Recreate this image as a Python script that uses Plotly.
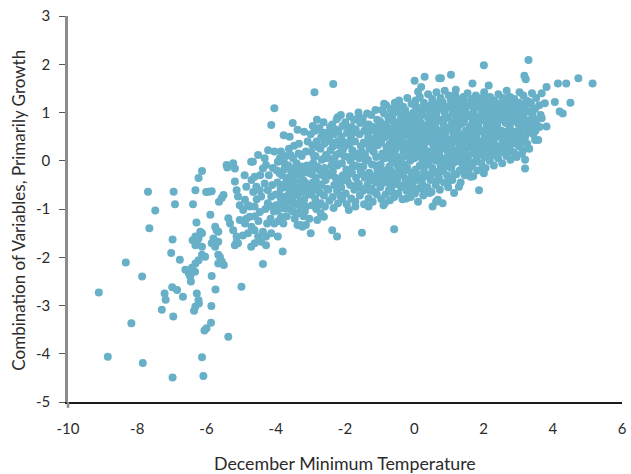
import plotly.graph_objects as go

# ---- data (December minimum temperature, combined growth index) ----
cold_tail = [
    (-9.11, -2.73), (-8.85, -4.06), (-8.33, -2.11), (-8.17, -3.37), (-7.86, -2.40), (-7.84, -4.19),
    (-7.69, -0.64), (-7.65, -1.40), (-7.48, -1.03), (-7.29, -3.09), (-7.21, -2.75), (-7.18, -2.88),
    (-6.99, -2.62), (-7.02, -1.91), (-6.98, -1.63), (-6.98, -4.49), (-6.96, -3.23), (-6.95, -0.64),
    (-6.91, -0.90), (-6.85, -2.68), (-6.77, -2.05), (-6.68, -2.82), (-6.61, -2.26), (-6.51, -2.33),
    (-6.47, -2.40), (-6.45, -2.50), (-6.42, -2.22), (-6.40, -1.65), (-6.39, -0.90), (-6.32, -0.61),
    (-6.32, -1.75), (-6.32, -1.57), (-6.32, -2.13), (-6.33, -2.30), (-6.32, -3.02), (-6.36, -3.11),
    (-6.29, -1.28), (-6.28, -2.75), (-6.28, -1.70), (-6.23, -2.89), (-6.23, -2.06), (-6.23, -1.61),
    (-6.23, -0.36), (-6.22, -2.96), (-6.18, -1.47), (-6.13, -0.21), (-6.13, -1.50), (-6.13, -1.95),
    (-6.13, -1.78), (-6.13, -4.07), (-6.09, -4.46), (-6.06, -3.52), (-6.04, -1.99), (-6.01, -0.65),
    (-6.00, -3.47), (-5.94, -0.64), (-5.89, -1.12), (-5.86, -3.01), (-5.87, -3.36), (-5.85, -0.63),
    (-5.85, -1.71), (-5.85, -2.39), (-5.80, -1.61), (-5.75, -1.78), (-5.75, -1.37), (-5.74, -2.67),
    (-5.71, -1.44), (-5.66, -1.47), (-5.66, -1.68), (-5.66, -1.95), (-5.66, -2.13), (-5.64, -0.85),
    (-5.61, -2.00), (-5.56, -0.77), (-5.56, -2.09), (-5.51, -0.71), (-5.50, -2.16), (-5.42, -0.09),
    (-5.40, -0.14), (-5.37, -1.19), (-5.37, -3.65), (-5.32, -1.30), (-5.23, -0.05), (-5.23, -1.44),
    (-5.18, -0.16), (-5.18, -0.43), (-5.18, -1.75), (-5.13, -0.61), (-5.13, -1.57), (-5.13, -1.68),
    (-5.09, -0.74), (-5.09, -1.71), (-5.04, -0.92), (-5.04, -1.23), (-4.99, -2.61),
]

cool_band = [
    (-4.94, -1.02), (-4.89, -0.81), (-4.89, -1.30), (-4.85, -0.54), (-4.80, -0.92), (-4.75, -0.95),
    (-4.75, -1.16), (-4.71, -0.02), (-4.71, -1.78), (-4.70, -1.37), (-4.66, -0.02), (-4.61, -0.33),
    (-4.61, -0.95), (-4.61, -1.44), (-4.61, -1.71), (-4.56, -0.54), (-4.51, 0.12), (-4.51, -1.57),
    (-4.46, -0.61), (-4.46, -1.06), (-4.42, -0.74), (-4.42, -1.68), (-4.37, -0.16), (-4.37, -1.47),
    (-4.37, -2.14), (-4.32, 0.05), (-4.32, -0.47), (-4.28, -0.09), (-4.28, -1.57), (-4.28, -1.75),
    (-4.23, -0.61), (-4.23, -0.88), (-4.13, 0.74), (-4.13, -0.74), (-4.13, -0.95), (-4.13, -1.50),
    (-4.04, 1.09), (-4.04, 0.19), (-4.04, -1.30), (-3.99, -0.92), (-3.94, -0.02), (-3.94, -1.02),
    (-3.94, -1.57), (-3.89, -0.26), (-3.85, 0.19), (-3.85, -0.81), (-3.85, -1.16), (-3.80, -0.50),
    (-3.80, -1.88), (-3.77, 0.53), (-3.75, -0.05), (-3.75, -0.99), (-3.71, -0.74), (-3.66, -0.36),
    (-3.56, -0.16), (-3.56, -0.61), (-3.51, 0.78), (-3.47, 0.31), (-3.47, -0.43), (-3.47, -0.88),
    (-3.37, 0.64), (-3.37, -0.19), (-3.37, -0.71), (-3.37, -1.33), (-3.32, -1.09), (-3.28, -0.54),
    (-3.28, -0.99), (-3.23, -1.37), (-3.18, 0.60), (-3.18, -0.23), (-3.18, -0.81), (-3.13, 0.19),
    (-3.13, -1.33), (-3.95, -0.45), (-3.90, -0.70), (-3.88, 0.05), (-3.82, -0.30), (-3.78, -1.30),
    (-3.72, -0.55), (-3.70, 0.10), (-3.68, -1.15), (-3.65, -0.85), (-3.62, 0.25), (-3.60, -0.40),
    (-3.58, -1.00), (-3.55, -0.25), (-3.52, -0.75), (-3.50, 0.05), (-3.45, -1.20), (-3.42, -0.60),
    (-3.40, -0.05), (-3.35, -0.45), (-3.33, 0.35), (-3.30, -0.85), (-3.27, -0.30), (-3.25, 0.10),
    (-3.22, -0.65), (-3.20, -1.15), (-3.15, -0.45), (-3.12, -0.95), (-3.10, -0.10), (-3.08, 0.40),
    (-3.05, -0.70), (-3.03, -1.20), (-4.20, -0.30), (-4.15, -1.20), (-4.10, -0.50), (-4.08, -0.15),
    (-4.00, -0.70), (-4.05, -1.05), (-4.25, -1.30), (-4.30, -1.00), (-4.45, -0.30), (-4.50, -1.25),
    (-4.55, -0.80), (-4.60, -1.15), (-4.65, -0.65), (-4.70, -0.40), (-4.80, -1.50), (-4.85, -1.20),
    (-4.90, -0.30), (-4.95, -1.55), (-4.22, 0.22), (-3.60, 0.50),
]

cool_fill = [
    (-3.97, -0.20), (-3.92, -1.25), (-3.86, -0.58), (-3.83, -0.95), (-3.76, -0.18), (-3.74, -0.78),
    (-3.69, -0.42), (-3.64, -0.10), (-3.61, -0.68), (-3.57, 0.12), (-3.53, -0.50), (-3.49, -1.05),
    (-3.44, -0.30), (-3.39, -0.90), (-3.34, 0.15), (-3.31, -0.62), (-3.26, -0.12), (-3.21, -0.40),
    (-3.16, -1.05), (-3.11, -0.60), (-3.06, -0.25), (-3.02, -0.50),
]

mid_band = [
    (-2.88, 1.42), (-2.34, 1.59), (-2.21, 0.90), (-2.99, -1.50), (-2.37, -1.44), (-2.23, -1.57),
    (-1.51, -1.49), (-2.70, -1.09), (-2.61, -1.16), (-2.80, -1.23), (-1.89, -1.02), (-1.70, -0.95),
    (-1.32, -0.95), (-3.28, -1.33),
    (-2.95, -0.92), (-2.98, -0.70), (-2.93, -0.45), (-2.96, -0.28), (-2.92, -0.05), (-2.97, 0.18),
    (-2.94, 0.32), (-2.99, 0.55), (-2.93, 0.72),
    (-2.83, -1.00), (-2.86, -0.78), (-2.81, -0.60), (-2.84, -0.35), (-2.80, -0.12), (-2.85, 0.10),
    (-2.82, 0.40), (-2.87, 0.62), (-2.81, 0.85),
    (-2.70, -0.88), (-2.73, -0.66), (-2.68, -0.50), (-2.72, -0.20), (-2.67, 0.02), (-2.71, 0.25),
    (-2.69, 0.48), (-2.74, 0.68),
    (-2.58, -0.95), (-2.61, -0.72), (-2.56, -0.40), (-2.59, -0.15), (-2.55, 0.12), (-2.60, 0.35),
    (-2.57, 0.58), (-2.62, 0.80),
    (-2.45, -0.83), (-2.48, -0.60), (-2.44, -0.30), (-2.47, 0.05), (-2.42, 0.22), (-2.46, 0.45),
    (-2.43, 0.70),
    (-2.33, -0.98), (-2.36, -0.75), (-2.31, -0.50), (-2.35, -0.22), (-2.30, 0.00), (-2.34, 0.30),
    (-2.32, 0.55), (-2.37, 0.75),
    (-2.20, -0.88), (-2.23, -0.62), (-2.18, -0.38), (-2.22, -0.10), (-2.17, 0.15), (-2.21, 0.40),
    (-2.19, 0.62), (-2.24, 0.86),
    (-2.08, -0.80), (-2.11, -0.55), (-2.06, -0.30), (-2.09, -0.05), (-2.05, 0.25), (-2.10, 0.50),
    (-2.07, 0.72), (-2.12, 0.95),
    (-1.95, -0.90), (-1.98, -0.68), (-1.93, -0.42), (-1.96, -0.18), (-1.92, 0.08), (-1.97, 0.32),
    (-1.94, 0.58), (-1.99, 0.80),
    (-1.82, -0.78), (-1.85, -0.50), (-1.80, -0.25), (-1.84, 0.00), (-1.79, 0.22), (-1.83, 0.48),
    (-1.81, 0.70), (-1.86, 0.92),
    (-1.70, -0.85), (-1.73, -0.60), (-1.68, -0.35), (-1.72, -0.10), (-1.67, 0.15), (-1.71, 0.40),
    (-1.69, 0.65), (-1.74, 0.85),
    (-1.57, -0.72), (-1.60, -0.48), (-1.55, -0.22), (-1.59, 0.05), (-1.54, 0.30), (-1.58, 0.55),
    (-1.56, 0.78), (-1.61, 1.00),
    (-1.45, -0.90), (-1.48, -0.62), (-1.43, -0.35), (-1.47, -0.12), (-1.42, 0.12), (-1.46, 0.38),
    (-1.44, 0.62), (-1.49, 0.88),
    (-1.32, -0.78), (-1.35, -0.50), (-1.30, -0.25), (-1.34, 0.02), (-1.29, 0.25), (-1.33, 0.50),
    (-1.31, 0.75), (-1.36, 0.98),
    (-1.20, -0.85), (-1.23, -0.58), (-1.18, -0.32), (-1.22, -0.08), (-1.17, 0.18), (-1.21, 0.45),
    (-1.19, 0.70), (-1.24, 0.95),
    (-1.08, -0.70), (-1.11, -0.45), (-1.06, -0.20), (-1.10, 0.08), (-1.05, 0.32), (-1.09, 0.58),
    (-1.07, 0.85), (-1.12, 1.05),
]

mid_fill = [
    (-2.90, -0.60), (-2.77, 0.28), (-2.64, -0.30), (-2.52, 0.48), (-2.39, -0.10), (-2.27, 0.65),
    (-2.14, -0.72), (-2.02, 0.10), (-1.89, -0.28), (-1.76, 0.58), (-1.64, -0.48), (-1.51, 0.18),
    (-1.39, 0.75), (-1.26, -0.40), (-1.14, 0.32), (-1.02, 0.72), (-2.89, 0.08), (-2.76, -0.48),
    (-2.52, -0.58), (-2.27, -0.35), (-2.01, 0.38), (-1.77, -0.12), (-1.52, -0.58), (-1.27, 0.62),
    (-1.02, -0.30), (-2.40, 0.58), (-1.88, 0.68), (-1.40, 0.00), (-1.15, -0.65),
    (-2.92, -0.18), (-2.78, -0.92), (-2.66, 0.58), (-2.50, -0.25), (-2.38, 0.38), (-2.26, 0.12),
    (-2.13, 0.30), (-2.00, -0.40), (-1.87, 0.35), (-1.74, 0.10), (-1.62, 0.88), (-1.49, -0.28),
    (-1.36, 0.35), (-1.24, 0.25), (-1.11, -0.10), (-2.60, 0.05), (-2.15, -0.50), (-1.60, -0.12),
    (-1.28, -0.62), (-1.05, 0.48),
]

core_band = [
    (0.01, 1.66), (0.30, 1.74), (0.72, 1.71), (0.11, 1.43), (0.20, 1.53), (-0.58, -1.42),
    (-0.85, -0.88), (-0.89, -0.92), (-0.23, -0.78), (0.11, -0.85), (0.53, -0.95), (0.63, -0.85),
    (0.44, -0.67), (0.77, 1.71), (0.68, -0.81), (0.82, -0.88),
    (-0.95, -0.80), (-0.98, -0.55), (-0.93, -0.30), (-0.97, -0.08), (-0.92, 0.15), (-0.96, 0.38),
    (-0.94, 0.60), (-0.99, 0.82), (-0.93, 1.05),
    (-0.83, -0.70), (-0.86, -0.45), (-0.81, -0.20), (-0.85, 0.05), (-0.80, 0.28), (-0.84, 0.50),
    (-0.82, 0.75), (-0.87, 0.98), (-0.81, 1.15),
    (-0.70, -0.82), (-0.73, -0.60), (-0.68, -0.35), (-0.72, -0.12), (-0.67, 0.12), (-0.71, 0.35),
    (-0.69, 0.58), (-0.74, 0.85), (-0.68, 1.08),
    (-0.58, -0.75), (-0.61, -0.50), (-0.56, -0.25), (-0.60, 0.00), (-0.55, 0.22), (-0.59, 0.48),
    (-0.57, 0.70), (-0.62, 0.95), (-0.56, 1.20),
    (-0.46, -0.68), (-0.49, -0.42), (-0.44, -0.18), (-0.48, 0.08), (-0.43, 0.30), (-0.47, 0.55),
    (-0.45, 0.80), (-0.50, 1.02), (-0.44, 1.25),
    (-0.34, -0.80), (-0.37, -0.55), (-0.32, -0.30), (-0.36, -0.05), (-0.31, 0.18), (-0.35, 0.42),
    (-0.33, 0.65), (-0.38, 0.90), (-0.32, 1.12),
    (-0.22, -0.62), (-0.25, -0.40), (-0.20, -0.15), (-0.24, 0.10), (-0.19, 0.35), (-0.23, 0.58),
    (-0.21, 0.82), (-0.26, 1.05), (-0.20, 1.30),
    (-0.10, -0.75), (-0.13, -0.50), (-0.08, -0.25), (-0.12, 0.00), (-0.07, 0.22), (-0.11, 0.45),
    (-0.09, 0.70), (-0.14, 0.92), (-0.08, 1.18),
    (0.02, -0.68), (-0.01, -0.42), (0.04, -0.18), (0.00, 0.05), (0.05, 0.30), (0.01, 0.52),
    (0.03, 0.78), (-0.02, 1.00), (0.04, 1.25),
    (0.14, -0.58), (0.11, -0.35), (0.16, -0.10), (0.12, 0.15), (0.17, 0.40), (0.13, 0.62),
    (0.15, 0.88), (0.10, 1.10), (0.16, 1.32),
    (0.26, -0.72), (0.23, -0.48), (0.28, -0.22), (0.24, 0.02), (0.29, 0.25), (0.25, 0.48),
    (0.27, 0.72), (0.22, 0.95), (0.28, 1.20),
    (0.38, -0.55), (0.35, -0.30), (0.40, -0.05), (0.36, 0.20), (0.41, 0.42), (0.37, 0.65),
    (0.39, 0.90), (0.34, 1.12), (0.40, 1.38),
    (0.50, -0.65), (0.47, -0.40), (0.52, -0.15), (0.48, 0.10), (0.53, 0.35), (0.49, 0.58),
    (0.51, 0.80), (0.46, 1.05), (0.52, 1.28),
    (0.62, -0.50), (0.59, -0.25), (0.64, 0.00), (0.60, 0.25), (0.65, 0.48), (0.61, 0.70),
    (0.63, 0.95), (0.58, 1.18), (0.64, 1.42),
    (0.74, -0.60), (0.71, -0.35), (0.76, -0.10), (0.72, 0.15), (0.77, 0.38), (0.73, 0.62),
    (0.75, 0.85), (0.70, 1.08), (0.76, 1.30),
    (0.86, -0.45), (0.83, -0.20), (0.88, 0.05), (0.84, 0.30), (0.89, 0.52), (0.85, 0.75),
    (0.87, 1.00), (0.82, 1.22), (0.88, 1.45),
    (0.98, -0.55), (0.95, -0.30), (1.00, -0.05), (0.96, 0.20), (1.01, 0.42), (0.97, 0.68),
    (0.99, 0.90), (0.94, 1.12), (1.00, 1.35),
]

core_fill = [
    (-0.92, -0.42), (-0.79, 0.16), (-0.66, -0.22), (-0.52, 0.62), (-0.41, -0.52), (-0.28, 0.28),
    (-0.15, -0.38), (-0.04, 0.82), (0.07, -0.28), (0.19, 0.52), (0.31, -0.10), (0.43, 0.78),
    (0.55, 0.02), (0.67, 0.38), (0.79, -0.22), (0.91, 0.62), (-0.88, 0.48), (-0.75, 0.92),
    (-0.63, 0.46), (-0.50, -0.08), (-0.39, 0.78), (-0.27, -0.20), (-0.16, 0.55), (-0.03, -0.55),
    (0.08, 0.68), (0.20, -0.45), (0.32, 0.38), (0.44, -0.32), (0.56, 0.92), (0.68, -0.40),
    (0.80, 0.52), (0.92, -0.12), (-0.90, 0.72), (-0.77, -0.32), (-0.65, 0.94), (-0.53, 0.35),
    (-0.40, 0.02), (-0.29, 1.00), (-0.17, 0.22), (-0.05, 0.36), (0.06, 0.95), (0.18, 0.08),
    (0.30, 1.08), (0.42, 0.08), (0.54, 0.68), (0.66, 1.05), (0.78, 0.25), (0.90, 0.88),
    (-0.87, 1.18), (-0.64, -0.65), (-0.41, 1.15), (-0.18, -0.62), (0.05, 1.12), (0.28, -0.60),
    (0.51, 1.18), (0.74, 1.22), (0.97, -0.45), (-0.30, 0.52), (0.20, 0.78), (0.66, 0.15),
    (-0.96, -0.18), (-0.84, 0.62), (-0.72, -0.45), (-0.60, 0.82), (-0.48, -0.30), (-0.36, 0.62),
    (-0.24, -0.50), (-0.12, 0.58), (0.00, -0.30), (0.12, 0.30), (0.24, -0.35), (0.36, 0.55),
    (0.48, -0.28), (0.60, 0.58), (0.72, -0.22), (0.84, 0.42), (0.96, 0.05), (-0.90, 0.05),
    (-0.78, 0.70), (-0.66, 0.02), (-0.54, 1.05), (-0.42, 0.45), (-0.30, -0.08), (-0.18, 0.95),
    (-0.06, 0.10), (0.06, 0.45), (0.18, 0.98), (0.30, 0.12), (0.42, 0.95), (0.54, 0.22),
    (0.66, 0.82), (0.78, 0.00), (0.90, 1.08), (-0.70, 0.25), (-0.46, 0.68), (-0.22, 0.70),
    (0.02, 0.65), (0.26, 0.60), (0.50, 0.48), (0.74, 0.48), (0.94, 0.35),
]

warm_band = [
    (1.06, 1.78), (1.20, 1.47), (1.68, 1.60), (2.01, 1.98), (2.15, 1.56), (2.01, -0.26),
    (1.96, -0.19), (1.63, -0.33), (1.87, -0.61), (1.15, -0.67), (1.29, -0.54), (3.11, 0.15),
    (3.20, 0.02), (2.96, 0.08), (3.20, -0.16),
    (1.10, -0.40), (1.07, -0.15), (1.12, 0.10), (1.08, 0.32), (1.13, 0.55), (1.09, 0.78),
    (1.11, 1.00), (1.06, 1.25),
    (1.22, -0.28), (1.19, -0.02), (1.24, 0.22), (1.20, 0.45), (1.25, 0.68), (1.21, 0.90),
    (1.23, 1.12), (1.18, 1.38),
    (1.34, -0.45), (1.31, -0.20), (1.36, 0.05), (1.32, 0.30), (1.37, 0.52), (1.33, 0.75),
    (1.35, 0.98), (1.30, 1.20),
    (1.46, -0.30), (1.43, -0.08), (1.48, 0.18), (1.44, 0.40), (1.49, 0.62), (1.45, 0.85),
    (1.47, 1.08), (1.42, 1.32),
    (1.58, -0.18), (1.55, 0.05), (1.60, 0.28), (1.56, 0.50), (1.61, 0.72), (1.57, 0.95),
    (1.59, 1.18), (1.54, 1.40),
    (1.70, -0.32), (1.67, -0.10), (1.72, 0.15), (1.68, 0.38), (1.73, 0.60), (1.69, 0.82),
    (1.71, 1.05), (1.66, 1.28),
    (1.82, -0.20), (1.79, 0.02), (1.84, 0.25), (1.80, 0.48), (1.85, 0.70), (1.81, 0.92),
    (1.83, 1.15), (1.78, 1.35),
    (1.94, -0.05), (1.91, 0.18), (1.96, 0.40), (1.92, 0.62), (1.97, 0.85), (1.93, 1.08),
    (1.95, 1.30),
    (2.06, -0.15), (2.03, 0.08), (2.08, 0.30), (2.04, 0.52), (2.09, 0.75), (2.05, 0.98),
    (2.07, 1.20), (2.02, 1.42),
    (2.18, 0.00), (2.15, 0.22), (2.20, 0.45), (2.16, 0.68), (2.21, 0.90), (2.17, 1.12),
    (2.19, 1.32),
    (2.30, -0.10), (2.27, 0.12), (2.32, 0.35), (2.28, 0.58), (2.33, 0.80), (2.29, 1.02),
    (2.31, 1.25),
    (2.42, 0.05), (2.39, 0.28), (2.44, 0.50), (2.40, 0.72), (2.45, 0.95), (2.41, 1.18),
    (2.43, 1.38),
    (2.54, -0.05), (2.51, 0.18), (2.56, 0.40), (2.52, 0.62), (2.57, 0.85), (2.53, 1.08),
    (2.55, 1.30),
    (2.66, 0.10), (2.63, 0.32), (2.68, 0.55), (2.64, 0.78), (2.69, 1.00), (2.65, 1.22),
    (2.67, 1.45),
    (2.78, 0.02), (2.75, 0.25), (2.80, 0.48), (2.76, 0.70), (2.81, 1.10), (2.77, 1.32),
    (2.90, 0.15), (2.87, 0.38), (2.92, 0.60), (2.88, 0.82), (2.93, 1.05), (2.89, 1.28),
]

warm_fill = [
    (1.04, 0.22), (1.16, -0.28), (1.27, 0.58), (1.40, 0.18), (1.52, 0.95), (1.64, 0.48),
    (1.76, -0.02), (1.88, 0.82), (2.00, 0.38), (2.12, 1.08), (2.24, 0.58), (2.36, 0.12),
    (2.48, 0.85), (2.60, 0.48), (2.72, 1.12), (2.84, 0.58), (2.96, 0.88), (3.08, 0.62),
    (3.20, 1.12), (3.32, 0.82), (3.44, 1.05), (3.56, 0.72), (1.05, 0.65), (1.17, 1.02),
    (1.28, 0.12), (1.40, 0.78), (1.52, 0.38), (1.64, 1.15), (1.76, 0.72), (1.88, 0.35),
    (2.00, 0.88), (2.12, 0.22), (2.24, 1.02), (2.36, 0.72), (2.48, 0.30), (2.60, 1.05),
    (2.72, 0.38), (2.84, 0.18), (2.96, 0.35), (3.08, 1.10), (3.20, 0.48), (3.32, 0.25),
    (3.44, 0.55), (1.04, 1.12), (1.16, 0.40), (1.28, 0.85), (1.40, -0.15), (1.52, 0.12),
    (1.64, 0.70), (1.76, 0.28), (1.88, 1.10), (2.00, 0.60), (2.12, 0.45), (2.24, 0.20),
    (2.36, 0.95), (2.48, 0.62), (2.60, 0.25), (2.72, 0.62), (2.84, 1.00), (2.96, 1.18),
    (3.08, 0.38), (3.20, 0.68), (3.32, 1.22),
    (1.10, 0.45), (1.22, 0.78), (1.34, 0.40), (1.46, 0.98), (1.58, 0.62), (1.70, 0.25),
    (1.82, 0.58), (1.94, 0.95), (2.06, 0.65), (2.18, 0.80), (2.30, 0.48), (2.42, 0.85),
    (2.54, 0.50), (2.66, 0.92), (2.78, 0.85), (2.90, 0.48), (3.02, 0.85), (3.14, 0.80),
    (3.26, 0.68), (3.38, 0.85), (1.12, -0.05), (1.25, 0.02), (1.38, -0.05), (1.50, 0.28),
    (1.62, -0.05), (1.74, 0.48), (1.86, 0.12), (1.98, 0.25), (2.10, 0.10), (2.22, 0.35),
    (2.34, 0.22), (2.46, 0.18), (2.58, 0.28), (2.70, 0.22), (2.82, 0.35), (1.14, 1.15),
    (1.26, 1.28), (1.38, 1.12), (1.50, 1.22), (1.62, 0.92), (1.74, 1.20), (1.86, 1.25),
    (1.98, 1.18), (2.10, 1.30), (2.22, 1.22), (2.34, 1.12), (2.46, 1.08), (2.58, 1.18),
    (2.70, 1.30), (2.82, 1.22),
]

hot_tail = [
    (3.30, 2.09), (3.18, 1.76), (3.22, 1.69), (3.82, 1.53), (4.15, 1.60), (4.39, 1.60),
    (4.74, 1.71), (5.15, 1.60), (3.68, 1.40), (3.77, 1.19), (4.06, 1.22), (4.51, 1.20),
    (4.20, 1.02), (4.29, 0.98), (3.82, 0.71), (3.68, 0.88), (3.49, 0.43), (3.58, 0.43),
    (3.39, 0.60),
    (3.02, 0.30), (3.05, 0.52), (3.01, 0.75), (3.06, 0.98), (3.03, 1.20), (3.04, 1.42),
    (3.14, 0.22), (3.17, 0.45), (3.13, 0.68), (3.16, 0.90), (3.12, 1.12), (3.15, 1.35),
    (3.26, 0.35), (3.29, 0.58), (3.25, 0.80), (3.28, 1.02), (3.24, 1.25),
    (3.38, 0.72), (3.41, 0.95), (3.37, 1.18), (3.40, 1.40),
    (3.50, 0.62), (3.53, 0.85), (3.49, 1.08), (3.52, 1.30),
    (3.62, 0.70), (3.65, 0.95), (3.61, 1.15),
]

x_tick_vals = [-10, -8, -6, -4, -2, 0, 2, 4, 6]
x_tick_text = ["-10", "-8", "-6", "-4", "-2", "0", "2", "4", "6"]
y_tick_vals = [-5, -4, -3, -2, -1, 0, 1, 2, 3]
y_tick_text = ["-5", "-4", "-3", "-2", "-1", "0", "1", "2", "3"]

x_title = "December Minimum Temperature"
y_title = "Combination of Variables, Primarily Growth"

points = (cold_tail + cool_band + cool_fill + mid_band + mid_fill + core_band + core_fill
          + warm_band + warm_fill + hot_tail)
temps = [p[0] for p in points]
growth = [p[1] for p in points]

FONT = "Lato"
TEXT = "#2b2b2b"

fig = go.Figure(
    go.Scatter(
        x=temps, y=growth, mode="markers",
        marker=dict(size=8, color="#68B0C8", line=dict(width=0)),
        hoverinfo="skip",
    )
)

fig.update_layout(
    width=631, height=474,
    margin=dict(l=68, r=4, t=16, b=72),
    paper_bgcolor="white", plot_bgcolor="white",
    showlegend=False,
    font=dict(family=FONT, size=14, color=TEXT),
    xaxis=dict(
        range=[-10, 6], showgrid=False, zeroline=False,
        showline=True, linecolor="#1a1a1a", linewidth=1.5,
        tickmode="array", tickvals=x_tick_vals, ticktext=x_tick_text,
        ticks="outside", ticklen=12, tickcolor="rgba(0,0,0,0)",
        ticklabeloverflow="allow",
        tickfont=dict(family=FONT, size=15, color=TEXT),
    ),
    yaxis=dict(
        range=[-5, 3], showgrid=False, zeroline=False,
        showline=True, linecolor="#8c8c8c", linewidth=2.5,
        tickmode="array", tickvals=y_tick_vals, ticktext=y_tick_text,
        ticks="outside", ticklen=6, tickwidth=1, tickcolor="#555555",
        ticklabelstandoff=6,
        tickfont=dict(family=FONT, size=15, color=TEXT),
    ),
    annotations=[
        dict(text=x_title, xref="paper", yref="paper", x=0.5, y=-0.158,
             xanchor="center", yanchor="middle", showarrow=False,
             font=dict(family=FONT, size=17.8, color=TEXT)),
        dict(text=y_title, xref="paper", yref="paper", x=-0.0894, y=0.497,
             xanchor="center", yanchor="middle", showarrow=False, textangle=-90,
             font=dict(family=FONT, size=17, color=TEXT)),
    ],
    shapes=[
        dict(type="line", xref="paper", yref="paper", x0=0, x1=0, y0=0, y1=-0.015,
             line=dict(color="#8c8c8c", width=2.5)),
    ],
)

fig.write_html("out.html", config={"displayModeBar": False},
               post_script="document.body.style.margin='0px';")
